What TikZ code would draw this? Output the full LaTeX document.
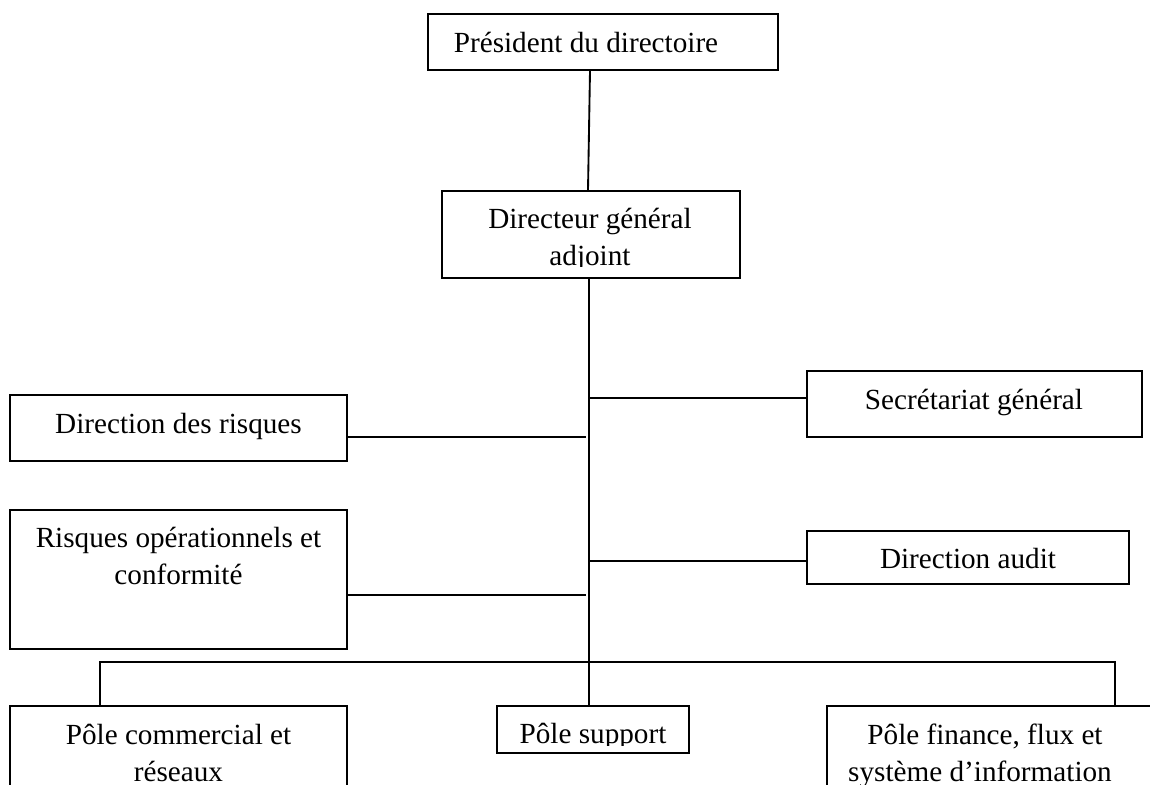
\documentclass[tikz,border=0pt]{standalone}
\usepackage{fontspec}
\setmainfont{Liberation Serif}
\usetikzlibrary{fit}
\begin{document}
\begin{tikzpicture}[x=0.75pt,y=0.75pt,yscale=-1,
  box/.style={draw, line width=1.6pt, inner sep=0pt},
  txt/.style={inner sep=0pt, anchor=base, font=\fontsize{21.9}{27.75}\selectfont},
  conn/.style={line width=1.4pt}]
\useasboundingbox (0,0) rectangle (1150,785);
\clip (0,0) rectangle (1150,785);
% boxes
\node[box, fit={(428,14) (778,70)}] (pres) {};
\node[box, fit={(442,191) (740,278)}] (dga) {};
\node[box, fit={(807,371) (1142,437)}] (sg) {};
\node[box, fit={(10,395) (347,461)}] (dr) {};
\node[box, fit={(10,510) (347,649)}] (ro) {};
\node[box, fit={(807,531) (1129,584)}] (da) {};
\node[box, fit={(10,706) (347,830)}] (pc) {};
\node[box, fit={(497,706) (689,753)}] (ps) {};
\node[box, fit={(827,706) (1200,830)}] (pf) {};
% texts
\node[txt] (tpres) at (586,52) {Président du directoire};
\node[txt] (tdga1) at (590,228) {Directeur général};
\begin{scope}
  \clip (442,191) rectangle (740,266);
  \node[txt] (tdga2) at (590,265) {adjoint};
\end{scope}
\node[txt] (tsg) at (974,409) {Secrétariat général};
\node[txt] (tdr) at (178.5,433) {Direction des risques};
\node[txt] (tro1) at (178.5,547) {Risques opérationnels et};
\node[txt] (tro2) at (178.5,584) {conformité};
\node[txt] (tda) at (968,568) {Direction audit};
\node[txt] (tpc1) at (178.5,744) {Pôle commercial et};
\node[txt] (tpc2) at (178.5,781) {réseaux};
\begin{scope}
  \clip (497,706) rectangle (689,745);
  \node[txt] (tps) at (593,743) {Pôle support};
\end{scope}
\node[txt] (tpf1) at (985,744) {Pôle finance, flux et};
\node[txt] (tpf2) at (980,781) {système d’information};
% reference coordinates
\coordinate (xa) at (590,0);
\coordinate (xb) at (588,0);
\coordinate (xs) at (589,0);
\coordinate (xl) at (586,0);
\coordinate (xbl) at (100,0);
\coordinate (xbr) at (1115,0);
\coordinate (ysg) at (0,398);
\coordinate (ydr) at (0,437);
\coordinate (yro) at (0,595);
\coordinate (yda) at (0,561);
\coordinate (ybus) at (0,662);
% connectors
\draw[conn] (pres.south -| xa) -- (dga.north -| xb);
\draw[conn] (dga.south -| xs) -- (ps.north -| xs);
\draw[conn] (xs |- ysg) -- (sg.west |- ysg);
\draw[conn] (dr.east |- ydr) -- (xl |- ydr);
\draw[conn] (ro.east |- yro) -- (xl |- yro);
\draw[conn] (xs |- yda) -- (da.west |- yda);
\draw[conn] (pc.north -| xbl) -- (xbl |- ybus) -- (xbr |- ybus) -- (pf.north -| xbr);
\end{tikzpicture}
\end{document}
